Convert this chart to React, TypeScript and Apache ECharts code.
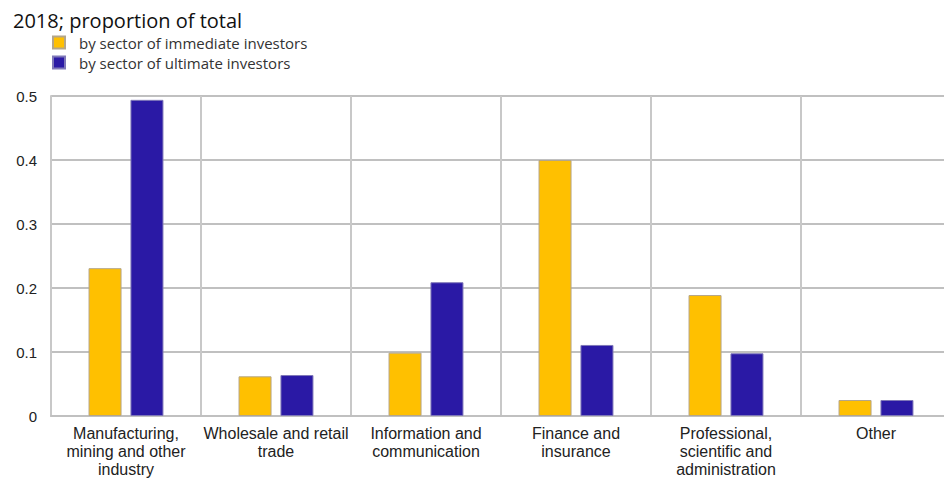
import React, { useEffect, useRef } from "react";
import * as echarts from "echarts";

const titleText = "2018; proportion of total";
const categories = [
  "Manufacturing,\nmining and other\nindustry",
  "Wholesale and retail\ntrade",
  "Information and\ncommunication",
  "Finance and\ninsurance",
  "Professional,\nscientific and\nadministration",
  "Other",
];
const seriesNames = ["by sector of immediate investors", "by sector of ultimate investors"];
const immediate = [0.231, 0.062, 0.099, 0.4, 0.189, 0.025];
const ultimate = [0.494, 0.064, 0.209, 0.111, 0.098, 0.025];
const colors = ["#FFC000", "#2A19A5"];

export default function App() {
  const ref = useRef<HTMLDivElement>(null);
  useEffect(() => {
    if (!ref.current) return;
    const chart = echarts.init(ref.current, undefined, { renderer: "svg" });
    chart.setOption({
      animation: false,
      title: {
        text: titleText,
        left: 8,
        top: 5,
        textStyle: { fontFamily: "Open Sans", fontSize: 20, fontWeight: "normal", color: "#111" },
      },
      legend: {
        orient: "vertical",
        left: 47,
        top: 30,
        itemWidth: 12,
        itemHeight: 12,
        itemGap: 5,
        icon: "rect",
        textStyle: { fontFamily: "Open Sans", fontSize: 15, lineHeight: 15, color: "#333", padding: [0, 0, 0, 9] },
        data: seriesNames,
      },
      grid: { left: 51, right: 1, top: 96, bottom: 63, containLabel: false },
      xAxis: {
        type: "category",
        data: categories,
        axisLine: { show: true, lineStyle: { color: "#c0c0c0", width: 2 } },
        axisTick: { show: false },
        splitLine: { show: true, interval: 0, lineStyle: { color: "#c8c8c8", width: 2 } },
        axisLabel: {
          interval: 0,
          margin: 8,
          fontFamily: "Liberation Sans",
          fontSize: 16,
          lineHeight: 18,
          color: "#222",
        },
      },
      yAxis: {
        type: "value",
        min: 0,
        max: 0.5,
        interval: 0.1,
        axisLine: { show: true, lineStyle: { color: "#c8c8c8", width: 2 } },
        axisTick: { show: false },
        splitLine: { show: true, lineStyle: { color: "#c0c0c0", width: 2 } },
        axisLabel: {
          margin: 14,
          fontFamily: "Liberation Sans",
          fontSize: 15,
          color: "#222",
          formatter: (v: number) => (v === 0 ? "0" : String(Math.round(v * 10) / 10)),
        },
      },
      series: [
        {
          name: seriesNames[0],
          type: "bar",
          data: immediate,
          barWidth: 33,
          barGap: "27%",
          itemStyle: { color: colors[0], borderColor: "#b4a68a", borderWidth: 1 },
        },
        {
          name: seriesNames[1],
          type: "bar",
          data: ultimate,
          barWidth: 33,
          barGap: "27%",
          itemStyle: { color: colors[1], borderColor: "#7f78b8", borderWidth: 1 },
        },
      ],
    });
    return () => chart.dispose();
  }, []);
  return (
    <div
      style={{ position: "absolute", left: 0, top: 0, width: 944, height: 479, overflow: "hidden" }}
    >
      <div ref={ref} style={{ width: 952, height: 479 }} />
    </div>
  );
}
